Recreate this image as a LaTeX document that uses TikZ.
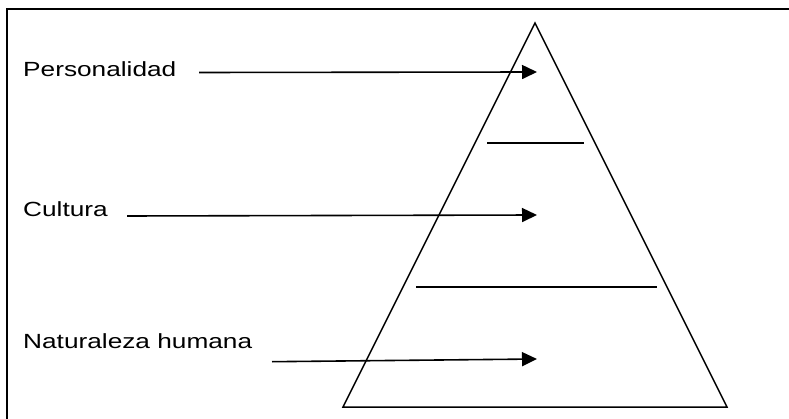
\documentclass[tikz,border=0pt]{standalone}
\usepackage{fontspec}
\setmainfont{Liberation Sans}
\newfontfamily\widesans[FakeStretch=1.28]{Liberation Sans}
\usetikzlibrary{arrows.meta}
\begin{document}
\begin{tikzpicture}[x=1pt,y=-1pt,
  leveltext/.style={anchor=base west,inner sep=0pt,font=\widesans\fontsize{20.5}{24}\selectfont},
  pointer/.style={line width=1.6pt,-{Triangle[length=15pt,width=14pt]}},
  edge/.style={line width=1.5pt},
  divider/.style={line width=1.6pt}]
\useasboundingbox (0,0) rectangle (789,419);
% open frame
\draw[line width=2.6pt] (7,419) -- (7,9) -- (789,9);
% pyramid
\coordinate (apex) at (535,23);
\coordinate (bl) at (343,407);
\coordinate (br) at (727,407);
\draw[edge,line join=miter] (apex) -- (br) -- (bl) -- cycle;
% level dividers
\coordinate (d1a) at (487,143);
\coordinate (d1b) at (584,143);
\coordinate (d2a) at (416,287);
\coordinate (d2b) at (657,287);
\draw[divider] (d1a) -- (d1b);
\draw[divider] (d2a) -- (d2b);
% labels
\node[leveltext] (pers) at (23,77) {Personalidad};
\node[leveltext] (cult) at (23,217) {Cultura};
\node[leveltext] (nat) at (23,348) {Naturaleza humana};
% arrow ends
\coordinate (p0) at (199,72.5);
\coordinate (p1) at (537,72);
\coordinate (c0) at (127,216);
\coordinate (c1) at (537,215);
\coordinate (n0) at (272,361.7);
\coordinate (n1) at (537,359);
\draw[pointer] (p0) -- (p1);
\draw[pointer] (c0) -- (c1);
\draw[pointer] (n0) -- (n1);
\end{tikzpicture}
\end{document}
